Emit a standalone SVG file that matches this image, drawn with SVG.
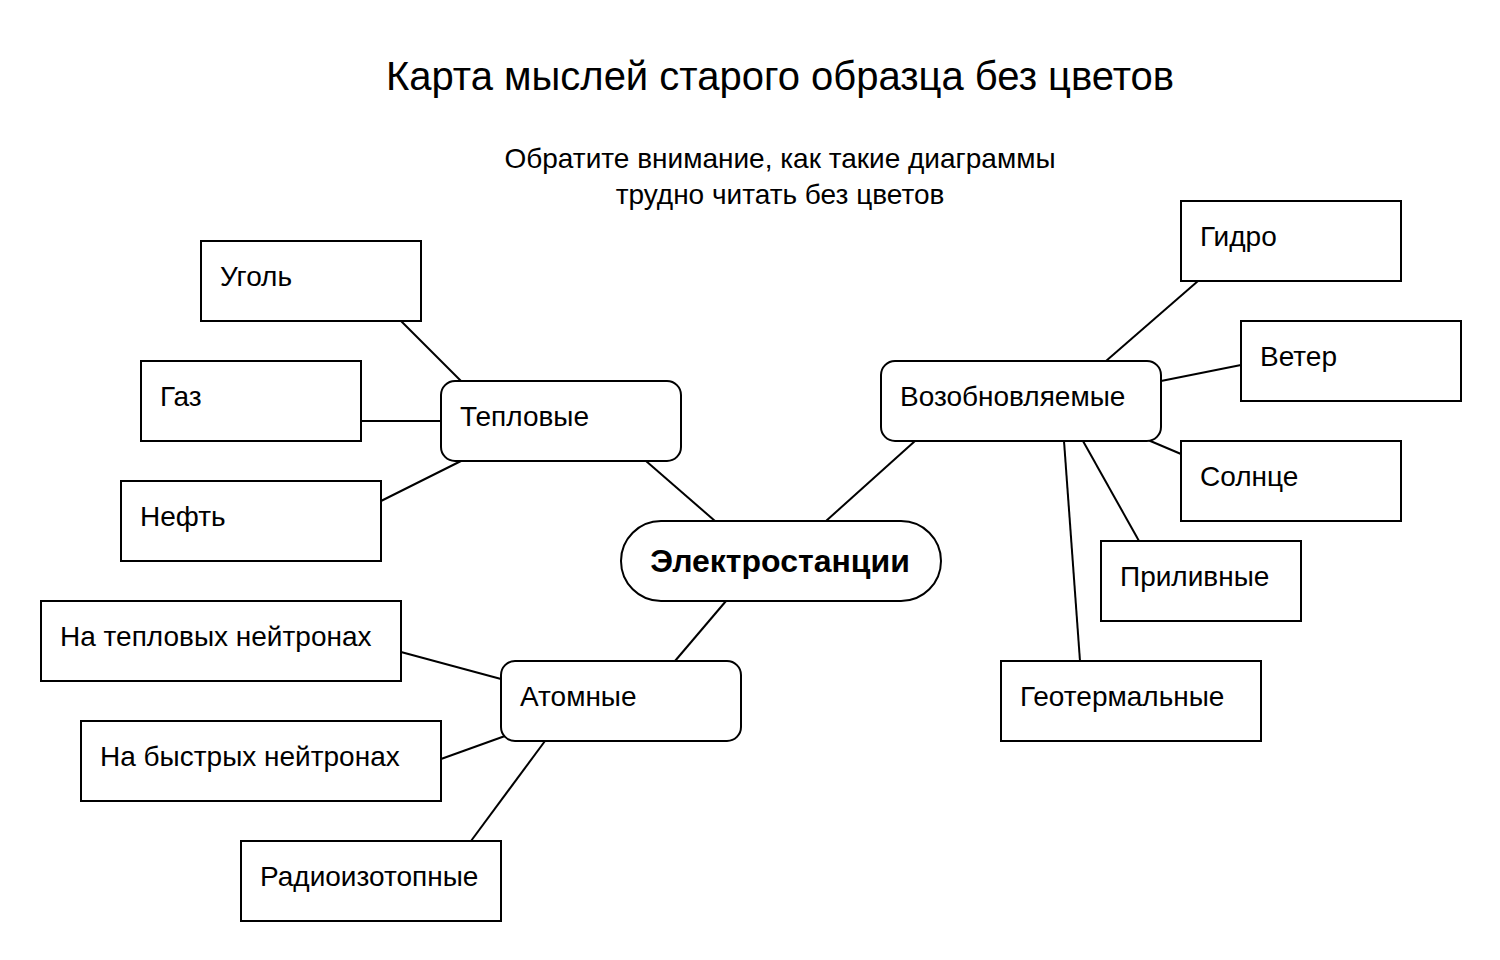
<svg xmlns="http://www.w3.org/2000/svg" width="1500" height="960" viewBox="0 0 1500 960">
<style>
.box{fill:#fff;stroke:#000;stroke-width:2}
.t{font-family:"Liberation Sans",Arial,sans-serif;font-size:28px;fill:#000}
.c line{stroke:#000;stroke-width:2}
</style>
<rect width="1500" height="960" fill="#fff"/>
<text x="780" y="90" text-anchor="middle" style="font-family:'Liberation Sans',Arial,sans-serif;font-size:40px">Карта мыслей старого образца без цветов</text>
<text x="780" y="168" text-anchor="middle" class="t">Обратите внимание, как такие диаграммы</text>
<text x="780" y="204" text-anchor="middle" class="t">трудно читать без цветов</text>
<g class="c" id="connectors">
<line x1="401" y1="321" x2="461" y2="381"/>
<line x1="361" y1="421" x2="441" y2="421"/>
<line x1="381" y1="501" x2="461" y2="461"/>
<line x1="646" y1="461" x2="715" y2="521"/>
<line x1="915" y1="441" x2="826" y2="521"/>
<line x1="726" y1="601" x2="675" y2="661"/>
<line x1="1198" y1="281" x2="1106" y2="361"/>
<line x1="1241" y1="365" x2="1161" y2="381"/>
<line x1="1181" y1="454" x2="1148" y2="440"/>
<line x1="1083" y1="441" x2="1139" y2="541"/>
<line x1="1064" y1="441" x2="1080" y2="661"/>
<line x1="401" y1="652" x2="501" y2="679"/>
<line x1="441" y1="759" x2="505" y2="736"/>
<line x1="471" y1="841" x2="545" y2="741"/>
</g>
<g id="n-electro"><rect class="box" x="621" y="521" width="320" height="80" rx="40"/><text x="780" y="572" text-anchor="middle" class="t" style="font-weight:bold;font-size:32px">Электростанции</text></g>
<g id="n-teplo"><rect class="box" x="441" y="381" width="240" height="80" rx="14"/><text x="460" y="426" class="t">Тепловые</text></g>
<g id="n-vozob"><rect class="box" x="881" y="361" width="280" height="80" rx="14"/><text x="900" y="406" class="t">Возобновляемые</text></g>
<g id="n-atom"><rect class="box" x="501" y="661" width="240" height="80" rx="14"/><text x="520" y="706" class="t">Атомные</text></g>
<g id="n-ugol"><rect class="box" x="201" y="241" width="220" height="80"/><text x="220" y="286" class="t">Уголь</text></g>
<g id="n-gaz"><rect class="box" x="141" y="361" width="220" height="80"/><text x="160" y="406" class="t">Газ</text></g>
<g id="n-neft"><rect class="box" x="121" y="481" width="260" height="80"/><text x="140" y="526" class="t">Нефть</text></g>
<g id="n-gidro"><rect class="box" x="1181" y="201" width="220" height="80"/><text x="1200" y="246" class="t">Гидро</text></g>
<g id="n-veter"><rect class="box" x="1241" y="321" width="220" height="80"/><text x="1260" y="366" class="t">Ветер</text></g>
<g id="n-solnce"><rect class="box" x="1181" y="441" width="220" height="80"/><text x="1200" y="486" class="t">Солнце</text></g>
<g id="n-priliv"><rect class="box" x="1101" y="541" width="200" height="80"/><text x="1120" y="586" class="t">Приливные</text></g>
<g id="n-geo"><rect class="box" x="1001" y="661" width="260" height="80"/><text x="1020" y="706" class="t">Геотермальные</text></g>
<g id="n-tepneu"><rect class="box" x="41" y="601" width="360" height="80"/><text x="60" y="646" class="t">На тепловых нейтронах</text></g>
<g id="n-bysneu"><rect class="box" x="81" y="721" width="360" height="80"/><text x="100" y="766" class="t">На быстрых нейтронах</text></g>
<g id="n-radio"><rect class="box" x="241" y="841" width="260" height="80"/><text x="260" y="886" class="t">Радиоизотопные</text></g>
</svg>
